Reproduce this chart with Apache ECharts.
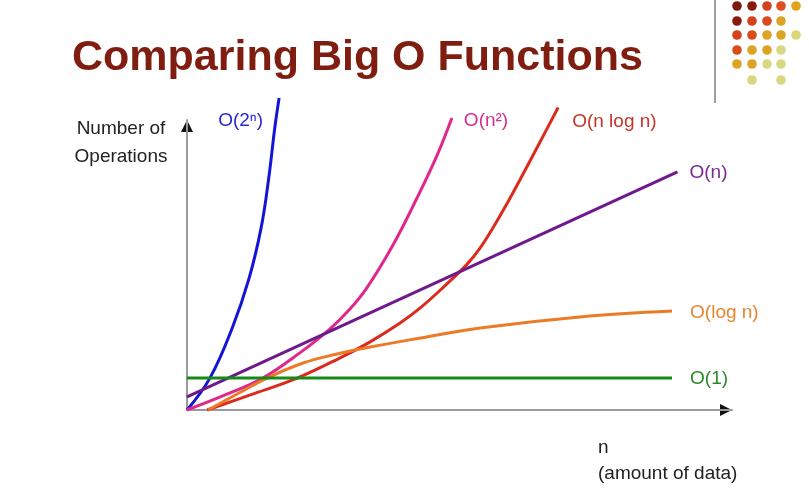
<!DOCTYPE html>
<html><head><meta charset="utf-8">
<script src="https://cdn.jsdelivr.net/npm/echarts@6/dist/echarts.min.js"></script>
<style>html,body{margin:0;padding:0;background:#fff}#c{width:809px;height:498px}</style>
</head><body><div id="c"></div>
<script>
// ---- data (n on x, number of operations on y; arbitrary units) ----
const titleText = 'Comparing Big O Functions';
const yAxisTitle = ['Number of', 'Operations'];
const xAxisTitle = ['n', '(amount of data)'];
const seriesNames = ['O(2ⁿ)', 'O(n²)', 'O(n log n)', 'O(n)', 'O(log n)', 'O(1)'];
const expValues = [[0,0],[0.42,11.0],[0.83,28.3],[1.14,45.5],[1.36,62.8],[1.50,80.0],[1.61,97.2],[1.69,107.6]];
const quadValues = [[0,0],[0.70,5.2],[1.39,11.0],[2.07,19.7],[2.62,27.9],[2.99,34.8],[3.30,42.1],[3.78,56.9],[4.22,73.1],[4.59,87.9],[4.86,100.7]];
const nlognValues = [[0.37,0],[1.16,5.2],[2.02,11.0],[2.81,18.0],[3.36,23.5],[3.91,30.0],[4.28,35.2],[4.73,42.8],[5.14,50.3],[5.38,55.9],[5.61,62.7],[5.87,71.1],[6.11,79.4],[6.48,92.5],[6.81,104.3]];
const linearValues = [[0,4.5],[9.0,82.1]];
const logValues = [[0.39,0],[0.92,5.5],[1.47,11.0],[2.13,16.2],[2.75,19.3],[3.36,21.7],[4.28,24.8],[5.38,28.3],[7.21,32.1],[8.90,34.1]];
const constValues = [[0,11.0],[8.9,11.0]];

const allValues = [expValues, quadValues, nlognValues, linearValues, logValues, constValues];
const lineColors = ['#1414d6', '#e0288c', '#dc2a1c', '#6e1a8c', '#ec7a26', '#168a16'];
const labelColors = ['#2a2ad0', '#d0308e', '#c8342a', '#7a2a90', '#e8862e', '#2a8a2a'];
// label placement relative to each curve's end (pixels)
const labelOffsets = [[-16, 23, 'right'], [12, 3, 'left'], [14, 14, 'left'], [12, 1, 'left'], [18, 2, 'left'], [18, 1, 'left']];

const dotRows = [
  ['#7a1a10', '#861c10', '#d4421c', '#dc4c1c', '#e0a418'],
  ['#861c10', '#d4421c', '#d84c1c', '#dca424'],
  ['#d4421c', '#d84c1c', '#dca424', '#dca424', '#d8d878'],
  ['#d84c1c', '#dca424', '#dca424', '#d8d884'],
  ['#dca424', '#dca424', '#d8d884', '#d8d884'],
  [null, '#d8d884', null, '#d8d884']
];

const FONT = '"Liberation Sans", Arial, Helvetica, sans-serif';
const chart = echarts.init(document.getElementById('c'), null, {renderer: 'canvas'});

chart.setOption({
  animation: false,
  backgroundColor: '#fff',
  grid: {left: 187, right: 77, top: 120, bottom: 88},
  xAxis: {type: 'value', min: 0, max: 10,
    axisLine: {show: true, lineStyle: {color: '#9a9a9a', width: 2}},
    axisTick: {show: false}, axisLabel: {show: false}, splitLine: {show: false}},
  yAxis: {type: 'value', min: 0, max: 100,
    axisLine: {show: true, lineStyle: {color: '#9a9a9a', width: 2}},
    axisTick: {show: false}, axisLabel: {show: false}, splitLine: {show: false}},
  series: allValues.map((vals, i) => ({
    name: seriesNames[i], type: 'line', data: vals, smooth: 0.4,
    showSymbol: false, clip: false,
    lineStyle: {color: lineColors[i], width: 3}
  }))
});

const g = [];
// title
g.push({type: 'text', left: 72, top: 37, style: {text: titleText, font: 'bold 43px ' + FONT, fill: '#7f1d10'}});
// decorative divider and dots
g.push({type: 'line', shape: {x1: 715, y1: 0, x2: 715, y2: 103}, style: {stroke: '#a0a0a0', lineWidth: 2}});
const dotX = [737, 752, 767, 781, 796];
const dotY = [6, 21, 35, 50, 64, 80];
dotRows.forEach((row, r) => row.forEach((c, k) => {
  if (c) g.push({type: 'circle', shape: {cx: dotX[k], cy: dotY[r], r: 4.8}, style: {fill: c}});
}));
// axis arrows
const xe = chart.convertToPixel({gridIndex: 0}, [10, 0]);
const ye = chart.convertToPixel({gridIndex: 0}, [0, 100]);
g.push({type: 'polygon', shape: {points: [[xe[0] - 12, xe[1] - 6], [xe[0], xe[1]], [xe[0] - 12, xe[1] + 6]]}, style: {fill: '#111'}});
g.push({type: 'polygon', shape: {points: [[ye[0] - 6, ye[1] + 12], [ye[0], ye[1]], [ye[0] + 6, ye[1] + 12]]}, style: {fill: '#111'}});
// axis titles
g.push({type: 'text', x: 121, y: 129, style: {text: yAxisTitle[0], font: '19px ' + FONT, fill: '#222', align: 'center', verticalAlign: 'middle'}});
g.push({type: 'text', x: 121, y: 157, style: {text: yAxisTitle[1], font: '19px ' + FONT, fill: '#222', align: 'center', verticalAlign: 'middle'}});
g.push({type: 'text', x: 598, y: 448, style: {text: xAxisTitle[0], font: '19px ' + FONT, fill: '#222', align: 'left', verticalAlign: 'middle'}});
g.push({type: 'text', x: 598, y: 474, style: {text: xAxisTitle[1], font: '19px ' + FONT, fill: '#222', align: 'left', verticalAlign: 'middle'}});
// curve labels
allValues.forEach((vals, i) => {
  const p = chart.convertToPixel({gridIndex: 0}, vals[vals.length - 1]);
  const off = labelOffsets[i];
  g.push({type: 'text', x: p[0] + off[0], y: p[1] + off[1],
    style: {text: seriesNames[i], font: '19px ' + FONT, fill: labelColors[i], align: off[2], verticalAlign: 'middle'}});
});
chart.setOption({graphic: g});
</script>
</body></html>
